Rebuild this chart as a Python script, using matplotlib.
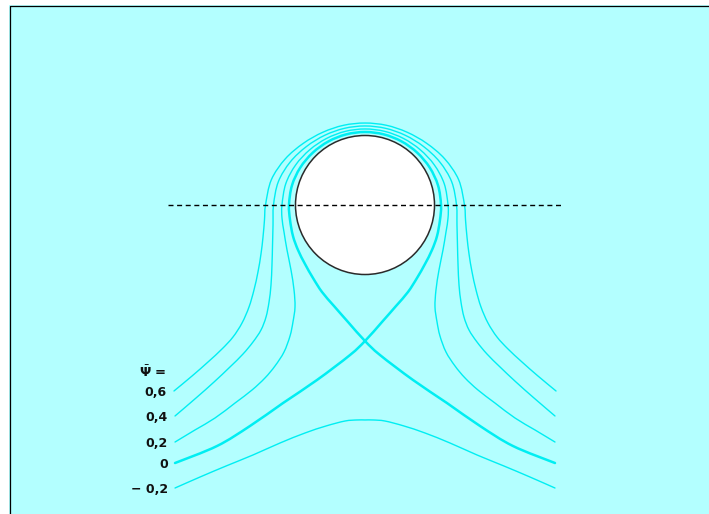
import numpy as np
import matplotlib
matplotlib.use("Agg")
import matplotlib.pyplot as plt
from matplotlib.path import Path
from matplotlib.patches import PathPatch, Circle, Rectangle

# ---------------- data (units: cylinder radius = 1, origin at its centre) ----
LEVELS = [0.6, 0.4, 0.2, 0.0, -0.2]
LEVEL_LABELS = ["0,6", "0,4", "0,2", "0", "\u2212 0,2"]
HEADER = r"$\bar{\mathbf{\Psi}}$ ="

# upper arcs around the cylinder, polar form (theta from 180 deg to 0 deg)
ARC_THETA_DEG = [180, 165, 150, 135, 120, 105, 90, 75, 60, 45, 30, 15, 0]
ARC_R_06 = [1.421, 1.386, 1.316, 1.246, 1.201, 1.179, 1.171, 1.179, 1.201, 1.246, 1.316, 1.386, 1.421]
ARC_R_04 = [1.307, 1.282, 1.232, 1.182, 1.150, 1.134, 1.129, 1.134, 1.150, 1.182, 1.232, 1.282, 1.307]
ARC_R_02 = [1.186, 1.172, 1.144, 1.116, 1.098, 1.089, 1.086, 1.089, 1.098, 1.116, 1.144, 1.172, 1.186]
ARC_R_00 = [1.086, 1.080, 1.068, 1.056, 1.048, 1.044, 1.043, 1.044, 1.048, 1.056, 1.068, 1.080, 1.086]

# psi = 0.6 lower branches
L06_X = [-2.729, -2.471, -2.243, -2.043, -1.886, -1.757, -1.657, -1.586, -1.529, -1.486, -1.457, -1.436]
L06_Y = [-2.657, -2.443, -2.243, -2.057, -1.886, -1.686, -1.457, -1.214, -0.957, -0.7, -0.457, -0.214]
R06_X = [1.436, 1.457, 1.486, 1.529, 1.586, 1.657, 1.757, 1.886, 2.043, 2.243, 2.471, 2.729]
R06_Y = [-0.214, -0.457, -0.7, -0.957, -1.214, -1.457, -1.686, -1.886, -2.057, -2.243, -2.443, -2.657]

# psi = 0.4 lower branches
L04_X = [-2.714, -2.414, -2.157, -1.929, -1.743, -1.6, -1.486, -1.414, -1.371, -1.343, -1.329, -1.321, -1.314]
L04_Y = [-3.014, -2.757, -2.529, -2.314, -2.129, -1.957, -1.786, -1.6, -1.386, -1.143, -0.857, -0.571, -0.286]
R04_X = [1.314, 1.321, 1.329, 1.343, 1.371, 1.414, 1.486, 1.6, 1.743, 1.929, 2.157, 2.414, 2.714]
R04_Y = [-0.286, -0.571, -0.857, -1.143, -1.386, -1.6, -1.786, -1.957, -2.129, -2.314, -2.529, -2.757, -3.014]

# psi = 0.2 lower branches
L02_X = [-2.714, -2.429, -2.143, -1.857, -1.614, -1.429, -1.286, -1.157, -1.071, -1.029, -1.0, -1.014, -1.057, -1.114, -1.157, -1.186]
L02_Y = [-3.386, -3.214, -3.043, -2.829, -2.643, -2.471, -2.3, -2.1, -1.871, -1.671, -1.457, -1.214, -0.929, -0.643, -0.386, -0.186]
R02_X = [1.186, 1.157, 1.114, 1.057, 1.014, 1.0, 1.029, 1.071, 1.157, 1.286, 1.429, 1.614, 1.857, 2.143, 2.429, 2.714]
R02_Y = [-0.186, -0.386, -0.643, -0.929, -1.214, -1.457, -1.671, -1.871, -2.1, -2.3, -2.471, -2.643, -2.829, -3.043, -3.214, -3.386]

# psi = 0 dividing streamline (two branches crossing below the cylinder)
A00_X = [-2.714, -2.114, -1.643, -1.171, -0.686, -0.214, 0.0, 0.243, 0.443, 0.614, 0.743, 0.857, 0.957, 1.029, 1.071]
A00_Y = [-3.686, -3.443, -3.157, -2.829, -2.5, -2.143, -1.943, -1.671, -1.443, -1.243, -1.043, -0.843, -0.643, -0.443, -0.214]
B00_X = [-1.071, -1.029, -0.957, -0.857, -0.743, -0.614, -0.443, -0.243, 0.0, 0.214, 0.686, 1.171, 1.643, 2.114, 2.714]
B00_Y = [-0.214, -0.443, -0.643, -0.843, -1.043, -1.243, -1.443, -1.671, -1.943, -2.143, -2.5, -2.829, -3.157, -3.443, -3.686]

# psi = -0.2 (passes below)
M02_X = [-2.714, -2.357, -1.986, -1.6, -1.214, -0.857, -0.557, -0.286, -0.114, 0.0,
         0.114, 0.286, 0.557, 0.857, 1.214, 1.6, 1.986, 2.357, 2.714]
M02_Y = [-4.043, -3.886, -3.729, -3.571, -3.4, -3.257, -3.157, -3.086, -3.071, -3.071,
         -3.071, -3.086, -3.157, -3.257, -3.4, -3.571, -3.729, -3.886, -4.043]

CYL_R = 0.993
DASH_X = [-2.81, 2.83]

# ---------------- style ------------------------------------------------------
BG = "#B3FFFF"
LINE_C = "#00EEF2"

def polar_xy(theta_deg, r):
    t = np.deg2rad(np.asarray(theta_deg, float))
    r = np.asarray(r, float)
    return r * np.cos(t), r * np.sin(t)

def smooth_path(x, y):
    P = np.column_stack([x, y])
    n = len(P)
    verts = [P[0]]
    codes = [Path.MOVETO]
    for i in range(n - 1):
        p0 = P[max(i - 1, 0)]
        p1 = P[i]
        p2 = P[i + 1]
        p3 = P[min(i + 2, n - 1)]
        c1 = p1 + (p2 - p0) / 6.0
        c2 = p2 - (p3 - p1) / 6.0
        verts += [c1, c2, p2]
        codes += [Path.CURVE4] * 3
    return Path(verts, codes)

fig = plt.figure(figsize=(7.09, 5.14), dpi=100)
fig.patch.set_facecolor("white")
W, H = 709.0, 514.0
ax = fig.add_axes([0, 0, 1, 1])
ax.set_facecolor("none")
ax.set_xlim(-365 / 70, 344 / 70)
ax.set_ylim(-309 / 70, 205 / 70)
ax.axis("off")
# framed background panel
ax.add_patch(Rectangle((9 / W, 0), 1 - 9 / W, 1 - 5 / H, transform=ax.transAxes,
                       facecolor=BG, edgecolor="none", zorder=0, clip_on=False))
ax.plot([9.5 / W, 9.5 / W, 1], [0, 1 - 5.5 / H, 1 - 5.5 / H], transform=ax.transAxes,
        color="black", lw=0.9, solid_capstyle="butt", zorder=1, clip_on=False)

curves = []
for lx, ly, r_arc, rx, ry in [(L06_X, L06_Y, ARC_R_06, R06_X, R06_Y),
                              (L04_X, L04_Y, ARC_R_04, R04_X, R04_Y),
                              (L02_X, L02_Y, ARC_R_02, R02_X, R02_Y)]:
    axc, ayc = polar_xy(ARC_THETA_DEG, r_arc)
    x = np.concatenate([lx, axc, rx])
    y = np.concatenate([ly, ayc, ry])
    curves.append((x, y))
axc, ayc = polar_xy(ARC_THETA_DEG, ARC_R_00)
x0 = np.concatenate([A00_X, axc[::-1], B00_X])
y0 = np.concatenate([A00_Y, ayc[::-1], B00_Y])
curves.append((x0, y0))
curves.append((np.array(M02_X), np.array(M02_Y)))

for lev, (x, y) in zip(LEVELS, curves):
    lw = 1.8 if lev == 0 else 1.0
    ax.add_patch(PathPatch(smooth_path(x, y), fill=False, edgecolor=LINE_C, lw=lw,
                           capstyle="round", zorder=2))

ax.add_patch(Circle((0, 0), CYL_R, facecolor="white", edgecolor="#2a2a2a", lw=1.1, zorder=3))
ax.plot(DASH_X, [0, 0], color="black", lw=1.0, dashes=(3.6, 2.6), zorder=4)

# labels at the left ends of the streamlines
for lab, (x, y) in zip(LEVEL_LABELS, curves):
    ax.text(x[0] - 0.105, y[0] - 0.02, lab, ha="right", va="center", fontsize=9,
            fontweight="bold", family="DejaVu Sans", color="#111111", zorder=5)
x06, y06 = curves[0]
ax.text(x06[0] - 0.105, y06[0] + 0.27, HEADER, ha="right", va="center", fontsize=9.5,
        fontweight="bold", family="DejaVu Sans", color="#111111", zorder=5)

fig.savefig("out.png", dpi=100)
